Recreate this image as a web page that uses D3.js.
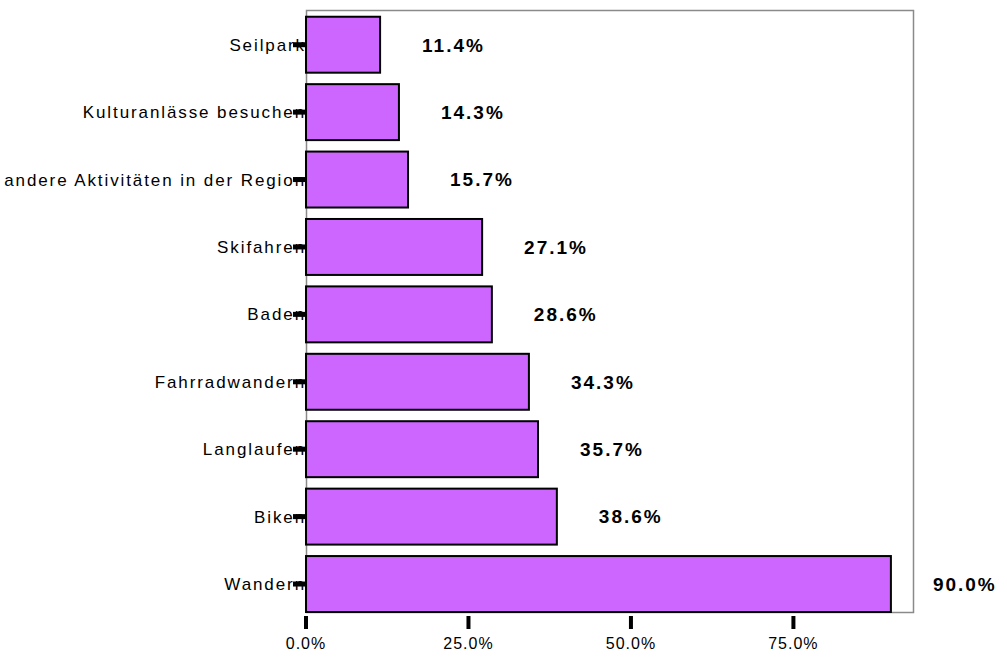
<!DOCTYPE html>
<html>
<head>
<meta charset="utf-8">
<script src="https://cdn.jsdelivr.net/npm/d3@7"></script>
<style>
  html, body { margin: 0; padding: 0; background: #fff; }
  svg { display: block; }
  .cat { font-family: Arial, "Liberation Sans", sans-serif; font-size: 17px; letter-spacing: 1.9px; fill: #000; }
  .tick-label { font-family: Arial, "Liberation Sans", sans-serif; font-size: 16px; letter-spacing: 1px; fill: #000; }
  .val { font-family: Arial, "Liberation Sans", sans-serif; font-size: 19px; font-weight: bold; letter-spacing: 2px; fill: #000; }
</style>
</head>
<body>
<svg id="chart" width="1007" height="658"></svg>
<script>
// Activities and the share of respondents naming each one
const categories = [
  "Seilpark",
  "Kulturanlässe besuchen",
  "andere Aktivitäten in der Region",
  "Skifahren",
  "Baden",
  "Fahrradwandern",
  "Langlaufen",
  "Biken",
  "Wandern"
];
const shares = [0.114, 0.143, 0.157, 0.271, 0.286, 0.343, 0.357, 0.386, 0.900];
const xTicks = [0, 0.25, 0.5, 0.75];

const svg = d3.select("#chart");
const plot = { left: 306, right: 913, top: 10, bottom: 612 };

const x = d3.scaleLinear().domain([0, 0.934]).range([plot.left, plot.right]);
const y = d3.scaleBand()
  .domain(categories)
  .range([plot.top, plot.bottom])
  .paddingInner(0.17)
  .paddingOuter(0.05)
  .align(1);

const fmt = d3.format(".1%");

// Plot frame
svg.append("rect")
  .attr("x", plot.left + 0.5)
  .attr("y", plot.top + 0.5)
  .attr("width", plot.right - plot.left)
  .attr("height", plot.bottom - plot.top)
  .attr("fill", "none")
  .attr("stroke", "#8a8a8a")
  .attr("stroke-width", 1.5);

// Bars
svg.append("g").selectAll("rect")
  .data(categories)
  .join("rect")
  .attr("x", x(0))
  .attr("y", d => y(d))
  .attr("width", (d, i) => x(shares[i]) - x(0))
  .attr("height", y.bandwidth())
  .attr("fill", "#cc66ff")
  .attr("stroke", "#000")
  .attr("stroke-width", 2);

// Value labels to the right of each bar
svg.append("g").selectAll("text")
  .data(categories)
  .join("text")
  .attr("class", "val")
  .attr("x", (d, i) => x(shares[i]) + 42)
  .attr("y", d => y(d) + y.bandwidth() / 2)
  .attr("dy", "0.36em")
  .text((d, i) => fmt(shares[i]));

// Category axis: labels first, tick marks drawn over their last letters
const yAxis = svg.append("g");
yAxis.selectAll("text")
  .data(categories)
  .join("text")
  .attr("class", "cat")
  .attr("x", plot.left)
  .attr("y", d => y(d) + y.bandwidth() / 2)
  .attr("dy", "0.36em")
  .attr("text-anchor", "end")
  .text(d => d);
yAxis.selectAll("rect")
  .data(categories)
  .join("rect")
  .attr("x", plot.left - 13)
  .attr("y", d => y(d) + y.bandwidth() / 2 - 2.5)
  .attr("width", 13)
  .attr("height", 5)
  .attr("fill", "#000");

// Value axis
const xAxis = svg.append("g");
xAxis.selectAll("rect")
  .data(xTicks)
  .join("rect")
  .attr("x", d => x(d) - 2)
  .attr("y", plot.bottom + 4)
  .attr("width", 4)
  .attr("height", 13)
  .attr("fill", "#000");
xAxis.selectAll("text")
  .data(xTicks)
  .join("text")
  .attr("class", "tick-label")
  .attr("x", d => x(d))
  .attr("y", 649)
  .attr("text-anchor", "middle")
  .text(d => fmt(d));
</script>
</body>
</html>
